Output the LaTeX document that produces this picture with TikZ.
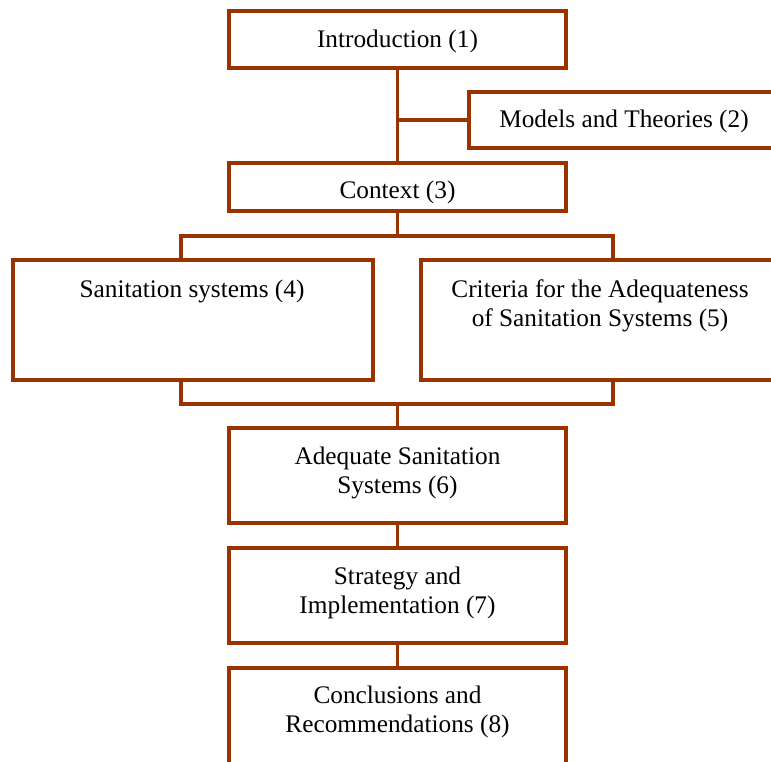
\documentclass[tikz,border=0pt]{standalone}
\usepackage{fontspec}
\setmainfont{Liberation Serif}
\usetikzlibrary{fit}
\definecolor{brn}{RGB}{153,51,0}
\begin{document}
\begin{tikzpicture}[x=1pt,y=-1pt,
  box/.style={draw=brn,line width=3.5pt,inner sep=0pt,rectangle},
  lbl/.style={inner sep=0pt,align=center,font=\fontsize{25.3}{29}\selectfont},
  conn/.style={draw=brn,line width=3.5pt,line join=miter}]
\useasboundingbox (0,0) rectangle (771,762);
% boxes
\node[box,fit={(229,11) (566,68)}] (b1) {};
\node[box,fit={(469,92) (795,148)}] (b2) {};
\node[box,fit={(229,163) (566,211)}] (b3) {};
\node[box,fit={(13,260) (373,380)}] (b4) {};
\node[box,fit={(421,260) (795,380)}] (b5) {};
\node[box,fit={(229,428) (566,523)}] (b6) {};
\node[box,fit={(229,548) (566,643)}] (b7) {};
\node[box,fit={(229,668) (566,800)}] (b8) {};
% labels
\node[lbl] (t1) at (397.5,41.5) {Introduction (1)};
\node[lbl] (t2) at (624,121.5) {Models and Theories (2)};
\node[lbl] (t3) at (397.5,192) {Context (3)};
\node[lbl] (t4) at (192,291.5) {Sanitation systems (4)};
\node[lbl] (t5) at (600,305.5) {Criteria for the Adequateness\\of Sanitation Systems (5)};
\node[lbl] (t6) at (397.5,472.5) {Adequate Sanitation\\Systems (6)};
\node[lbl] (t7) at (397.5,592.5) {Strategy and\\Implementation (7)};
\node[lbl] (t8) at (397.5,711.5) {Conclusions and\\Recommendations (8)};
% junctions
\coordinate (j0) at (397.5,236);
\coordinate (j4) at (181,236);
\coordinate (j5) at (613,236);
\coordinate (k0) at (397.5,404);
\coordinate (k4) at (181,404);
\coordinate (k5) at (613,404);
% connectors
\draw[conn] (b1.south) -- (b3.north);
\draw[conn] (b1.south |- b2.west) -- (b2.west);
\draw[conn] (b3.south) -- (j0);
\draw[conn] (j4 |- b4.north) -- (j4) -- (j5) -- (j5 |- b5.north);
\draw[conn] (k4 |- b4.south) -- (k4) -- (k5) -- (k5 |- b5.south);
\draw[conn] (k0) -- (b6.north);
\draw[conn] (b6.south) -- (b7.north);
\draw[conn] (b7.south) -- (b8.north);
\end{tikzpicture}
\end{document}
